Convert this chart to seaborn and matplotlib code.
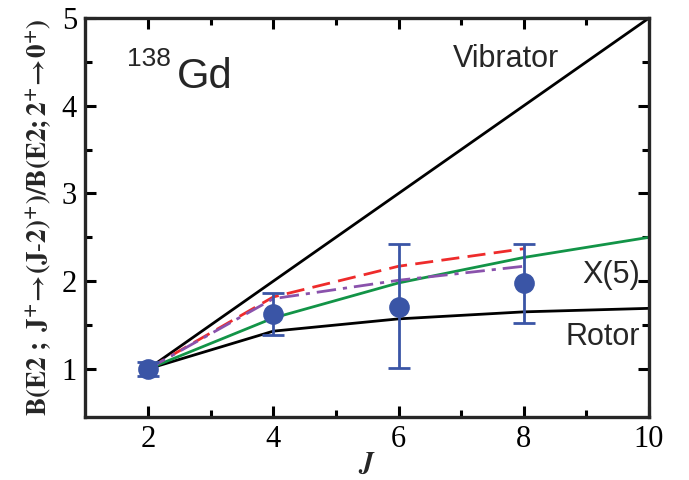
import numpy as np
import pandas as pd
import matplotlib
matplotlib.use("Agg")
import matplotlib.pyplot as plt
import seaborn as sns

# model curves
J_model = [2, 4, 6, 8, 10]
vibrator = [1.0, 2.0, 3.0, 4.0, 5.0]
rotor = [1.0, 1.43, 1.57, 1.65, 1.69]
x5 = [1.0, 1.58, 1.98, 2.27, 2.50]

J_calc = [2, 4, 6, 8]
calc_red = [1.0, 1.82, 2.17, 2.37]
calc_purple = [1.0, 1.80, 2.01, 2.17]

# experimental points
J_exp = [2, 4, 6, 8]
b_exp = [1.0, 1.62, 1.71, 1.98]
err_hi = [1.08, 1.87, 2.42, 2.42]
err_lo = [0.92, 1.39, 1.01, 1.52]

sns.set_style("ticks")
plt.rcParams['font.family'] = ['Liberation Serif', 'DejaVu Serif']
plt.rcParams['mathtext.fontset'] = 'stix'

fig = plt.figure(figsize=(6.89, 4.8), dpi=100)
ax = fig.add_axes([0.124, 0.131, 0.818, 0.8315])

models = pd.DataFrame({"J": J_model, "Vibrator": vibrator, "Rotor": rotor, "X5": x5})
calc = pd.DataFrame({"J": J_calc, "red": calc_red, "purple": calc_purple})

sns.lineplot(data=models, x="J", y="Vibrator", color="black", lw=2.0, ax=ax)
sns.lineplot(data=models, x="J", y="Rotor", color="black", lw=2.0, ax=ax)
sns.lineplot(data=models, x="J", y="X5", color="#129447", lw=2.0, ax=ax)
sns.lineplot(data=calc, x="J", y="red", color="#ee2b2b", lw=2.0, ax=ax,
             linestyle=(0, (6.5, 3)))
sns.lineplot(data=calc, x="J", y="purple", color="#8a52ac", lw=2.0, ax=ax,
             linestyle=(0, (7, 2.5, 1.5, 2.5)))

blue = "#3a55a6"
yerr = [np.array(b_exp) - np.array(err_lo), np.array(err_hi) - np.array(b_exp)]
ax.errorbar(J_exp, b_exp, yerr=yerr, fmt="none", ecolor=blue, elinewidth=2.0,
            capsize=8, capthick=2.0, zorder=4)
sns.scatterplot(x=J_exp, y=b_exp, color=blue, s=190, edgecolor=blue, zorder=5, ax=ax)

ax.set_xlim(1, 10)
ax.set_ylim(0.45, 5)
ax.set_xticks([2, 4, 6, 8, 10])
ax.set_xticks([3, 5, 7, 9], minor=True)
ax.set_yticks([1, 2, 3, 4, 5])
ax.set_yticks([1.5, 2.5, 3.5, 4.5], minor=True)
ax.tick_params(which="both", direction="in", top=True, right=True, width=2.2,
               labelsize=22, pad=6, colors="black")
ax.tick_params(which="major", length=8)
ax.tick_params(which="minor", length=5)
for s in ax.spines.values():
    s.set_linewidth(2.4)

ax.set_xlabel("$\\boldsymbol{J}$", fontsize=20, labelpad=-2)
ax.set_ylabel("$\\mathbf{B(E2\\ ;\\ J^{+}\\!\\rightarrow\\!(J\\text{-}2)^{+})/B(E2;2^{+}\\!\\rightarrow\\!0^{+})}$",
              fontsize=19.5, labelpad=6)

sans = ['Liberation Sans', 'DejaVu Sans']
ax.text(7.71, 4.44, "Vibrator", fontsize=22, family=sans, ha="center", va="baseline")
ax.text(9.39, 1.98, "X(5)", fontsize=22, family=sans, ha="center", va="baseline")
ax.text(9.26, 1.27, "Rotor", fontsize=22, family=sans, ha="center", va="baseline")
ax.text(1.66, 4.45, "138", fontsize=19, family=sans, ha="left", va="baseline")
ax.text(2.46, 4.20, "Gd", fontsize=30, family=sans, ha="left", va="baseline")

plt.savefig("out.png", dpi=100)
